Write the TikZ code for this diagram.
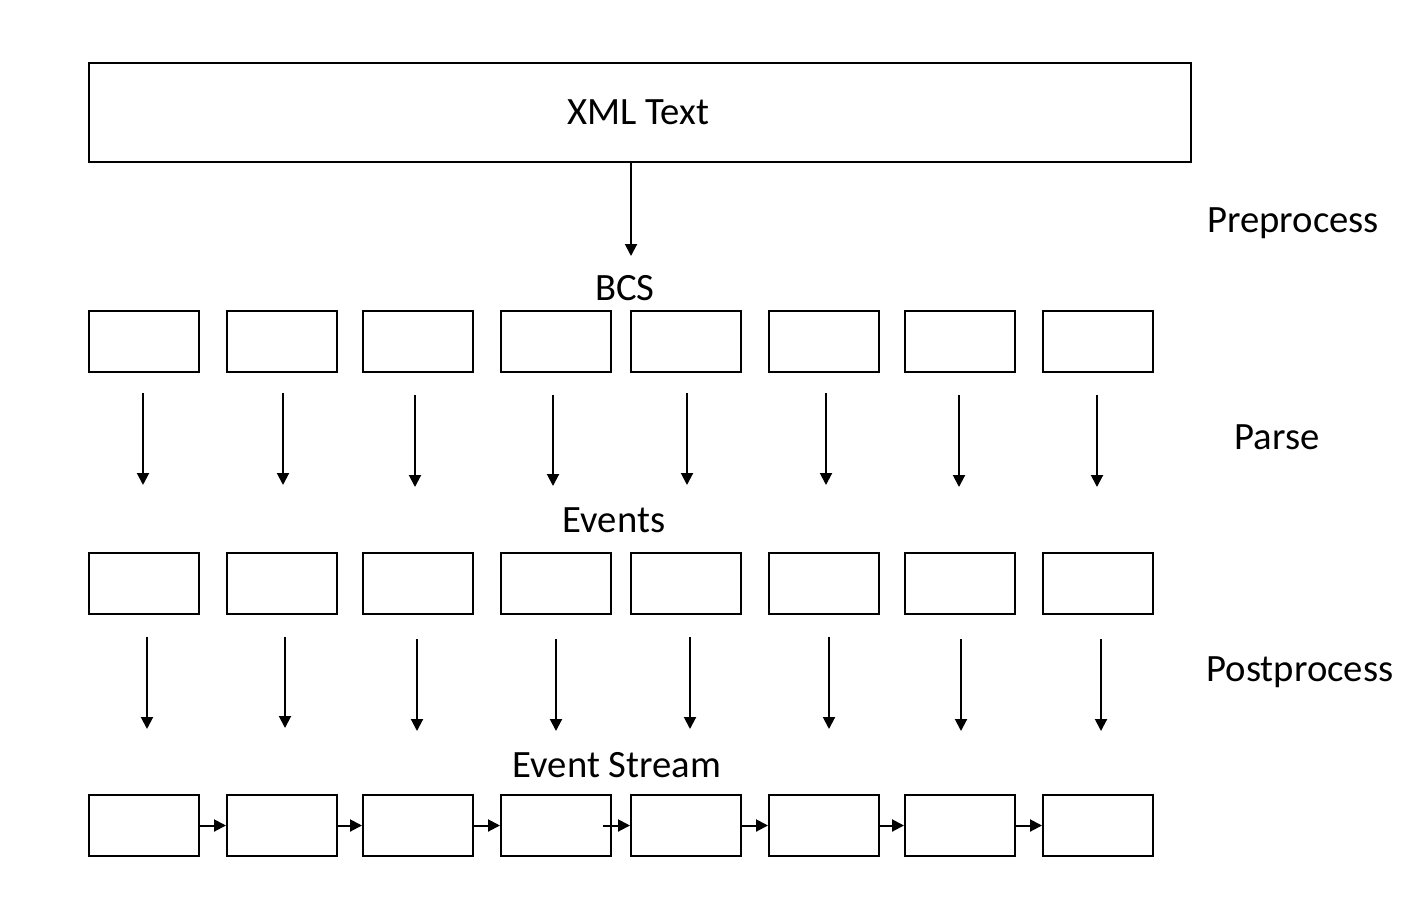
\documentclass[tikz,border=0pt]{standalone}
\usepackage{fontspec}
\setmainfont{Carlito}
\usetikzlibrary{arrows.meta}
\begin{document}
\begin{tikzpicture}[x=0.75pt,y=-0.75pt,
  box/.style={draw,line width=1.5pt,minimum width=82.5pt,minimum height=45.75pt,inner sep=0pt},
  lbl/.style={font=\fontsize{29}{35}\selectfont,inner sep=0pt},
  arr/.style={line width=1.5pt,-{Triangle[width=9pt,length=9pt]}}]
\useasboundingbox (0,0) rectangle (1416,906);
% top box
\node[box,minimum width=826.5pt,minimum height=74.25pt] (xml) at (640,112.5) {};
\node[lbl] (xmllabel) at (638,112) {XML Text};
\coordinate (t1) at (631,256);
\draw[arr] (xml.south -| t1) -- (t1);
% labels
\node[lbl] (bcs) at (625,288) {BCS};
\node[lbl] (events) at (614,520) {Events};
\node[lbl] (stream) at (617,765) {Event Stream};
\node[lbl] (pre) at (1293,223) {Preprocess};
\node[lbl] (parse) at (1277,437) {Parse};
\node[lbl] (post) at (1300,672) {Postprocess};
% rows of boxes
\foreach \i/\x in {1/144,2/282,3/418,4/556,5/686,6/824,7/960,8/1098}{
  \node[box] (a\i) at (\x,341.5) {};
  \node[box] (b\i) at (\x,583.5) {};
  \node[box] (c\i) at (\x,825.5) {};
}
% parse arrows
\foreach \i/\x/\ys/\ye in {1/143/393/485,2/283/393/485,3/415/395/487,4/553/395/486,5/687/393/485,6/826/393/485,7/959/395/487,8/1097/395/487}{
  \coordinate (ps\i) at (\x,\ys);
  \coordinate (pe\i) at (\x,\ye);
  \draw[arr] (ps\i) -- (pe\i);
}
% postprocess arrows
\foreach \i/\x/\ys/\ye in {1/147/637/729,2/285/637/728,3/417/639/731,4/556/639/731,5/690/637/729,6/829/637/729,7/961/639/731,8/1101/639/731}{
  \coordinate (qs\i) at (\x,\ys);
  \coordinate (qe\i) at (\x,\ye);
  \draw[arr] (qs\i) -- (qe\i);
}
% stream arrows
\draw[arr] (c1.east) -- (c2.west);
\draw[arr] (c2.east) -- (c3.west);
\draw[arr] (c3.east) -- (c4.west);
\coordinate (s45) at (603,825.5);
\draw[arr] (s45) -- (c5.west);
\draw[arr] (c5.east) -- (c6.west);
\draw[arr] (c6.east) -- (c7.west);
\draw[arr] (c7.east) -- (c8.west);
\end{tikzpicture}
\end{document}
